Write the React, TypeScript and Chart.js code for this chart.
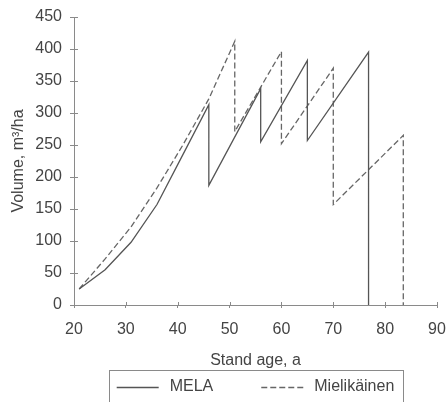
import React, { useEffect, useRef } from "react";
import { Chart, registerables } from "chart.js";

Chart.register(...registerables);

// Stand volume development under two growth/thinning models
const melaAge = [21, 26, 31, 36, 41, 46, 46, 56, 56, 65, 65, 76.8, 76.8];
const melaVolume = [25, 55, 98, 157, 235, 313, 187, 338, 255, 382, 257, 395, 0];

const mieliAge = [21, 26, 31, 36, 41, 46, 51, 51, 60, 60, 70, 70, 83.5, 83.5];
const mieliVolume = [25, 72, 122, 183, 250, 322, 412, 271, 396, 252, 370, 157, 265, 0];

const xTicks = [20, 30, 40, 50, 60, 70, 80, 90];
const yTicks = [0, 50, 100, 150, 200, 250, 300, 350, 400, 450];

const FONT = '"Liberation Sans", Arial, Helvetica, sans-serif';
const TEXT = "#444";
const AXIS = "#8a8a8a";

const toPoints = (xs: number[], ys: number[]) => xs.map((x, i) => ({ x, y: ys[i] }));

// Tick marks that cross the axis line (Chart.js only draws the outer half)
const innerTicks = {
  id: "innerTicks",
  afterDraw(chart: any) {
    const { ctx, chartArea, scales } = chart;
    ctx.save();
    ctx.strokeStyle = AXIS;
    ctx.lineWidth = 1;
    ctx.beginPath();
    scales.y.ticks.forEach((t: any) => {
      const py = Math.round(scales.y.getPixelForValue(t.value)) + 0.5;
      ctx.moveTo(chartArea.left, py);
      ctx.lineTo(chartArea.left + 4, py);
    });
    scales.x.ticks.forEach((t: any) => {
      const px = Math.round(scales.x.getPixelForValue(t.value)) + 0.5;
      ctx.moveTo(px, chartArea.bottom);
      ctx.lineTo(px, chartArea.bottom - 3);
    });
    ctx.stroke();
    ctx.restore();
  },
};

// Boxed legend below the axis title
const boxedLegend = {
  id: "boxedLegend",
  afterDraw(chart: any) {
    const { ctx, chartArea } = chart;
    const sets = chart.data.datasets;
    const lineLen = 42;
    const textGap = 11;
    const itemGap = 48;
    ctx.save();
    ctx.font = `16px ${FONT}`;
    const widths = sets.map((d: any) => lineLen + textGap + ctx.measureText(d.label).width);
    const total = widths.reduce((a: number, b: number) => a + b, 0) + itemGap * (sets.length - 1);
    const cx = (chartArea.left + chartArea.right) / 2;
    let x = cx - total / 2;
    const top = chartArea.bottom + 65;
    const midY = top + 17;

    ctx.strokeStyle = AXIS;
    ctx.lineWidth = 1;
    ctx.setLineDash([]);
    ctx.strokeRect(Math.round(x - 8) + 0.5, Math.round(top) + 0.5, Math.round(total + 16), 60);

    sets.forEach((d: any, i: number) => {
      ctx.save();
      ctx.strokeStyle = d.borderColor;
      ctx.lineWidth = d.borderWidth;
      ctx.setLineDash(d.borderDash || []);
      ctx.beginPath();
      ctx.moveTo(x, midY + 0.5);
      ctx.lineTo(x + lineLen, midY + 0.5);
      ctx.stroke();
      ctx.restore();
      ctx.fillStyle = TEXT;
      ctx.textBaseline = "middle";
      ctx.textAlign = "left";
      ctx.fillText(d.label, x + lineLen + textGap, midY);
      x += widths[i] + itemGap;
    });
    ctx.restore();
  },
};

const whiteBg = {
  id: "whiteBg",
  beforeDraw(chart: any) {
    const { ctx, width, height } = chart;
    ctx.save();
    ctx.fillStyle = "#fff";
    ctx.fillRect(0, 0, width, height);
    ctx.restore();
  },
};

export default function App() {
  const ref = useRef<HTMLCanvasElement | null>(null);

  useEffect(() => {
    document.body.style.margin = "0";
    if (!ref.current) return;
    Chart.defaults.font.family = FONT;
    Chart.defaults.font.size = 16;
    Chart.defaults.color = TEXT;

    const chart = new Chart(ref.current, {
      type: "line",
      data: {
        datasets: [
          {
            label: "MELA",
            data: toPoints(melaAge, melaVolume),
            borderColor: "#555",
            borderWidth: 1.3,
            pointRadius: 0,
            tension: 0,
            fill: false,
          },
          {
            label: "Mielikäinen",
            data: toPoints(mieliAge, mieliVolume),
            borderColor: "#666",
            borderWidth: 1.3,
            borderDash: [6, 3],
            pointRadius: 0,
            tension: 0,
            fill: false,
          },
        ],
      },
      options: {
        animation: false,
        responsive: false,
        devicePixelRatio: 1,
        layout: { padding: { top: 17, right: 11, bottom: 32, left: 0 } },
        plugins: {
          legend: { display: false },
          tooltip: { enabled: false },
        },
        scales: {
          x: {
            type: "linear",
            min: 20,
            max: 90,
            afterBuildTicks: (s: any) => {
              s.ticks = xTicks.map((v) => ({ value: v }));
            },
            afterFit: (s: any) => {
              s.height = 65;
              s.paddingLeft = 0;
              s.paddingRight = 0;
            },
            grid: { drawOnChartArea: false, drawTicks: true, tickLength: 3, color: AXIS },
            border: { display: true, color: AXIS, width: 1 },
            ticks: { color: TEXT, padding: 12, font: { size: 16 }, maxRotation: 0 },
            title: {
              display: true,
              text: "Stand age, a",
              color: TEXT,
              font: { size: 16 },
              padding: { top: 0, bottom: 0 },
            },
          },
          y: {
            type: "linear",
            min: 0,
            max: 450,
            afterBuildTicks: (s: any) => {
              s.ticks = yTicks.map((v) => ({ value: v }));
            },
            afterFit: (s: any) => {
              s.width = 74;
              s.paddingTop = 0;
              s.paddingBottom = 0;
            },
            grid: { drawOnChartArea: false, drawTicks: true, tickLength: 4, color: AXIS },
            border: { display: true, color: AXIS, width: 1 },
            ticks: { color: TEXT, padding: 8, font: { size: 16 } },
            title: {
              display: true,
              text: "Volume, m³/ha",
              color: TEXT,
              font: { size: 16 },
              padding: { top: 9, bottom: 0 },
            },
          },
        },
      },
      plugins: [whiteBg, innerTicks, boxedLegend],
    });

    return () => chart.destroy();
  }, []);

  return <canvas ref={ref} width={448} height={402} style={{ display: "block" }} />;
}
